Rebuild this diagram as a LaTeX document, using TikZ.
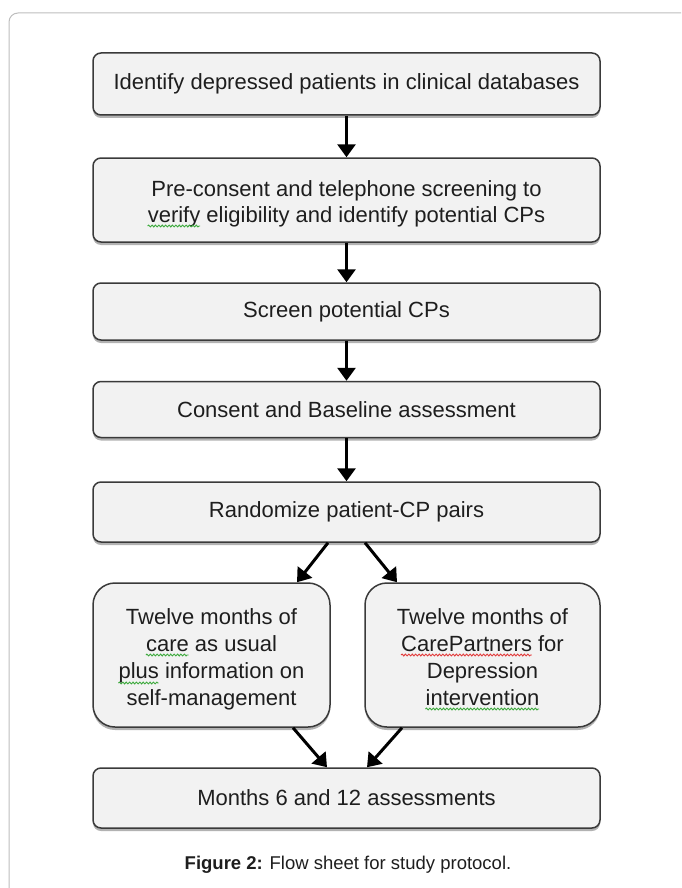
\documentclass[tikz,border=0pt]{standalone}
\usepackage{fontspec}
\setmainfont{Liberation Sans}
\usetikzlibrary{arrows.meta,shadows,calc,decorations.pathmorphing}
\definecolor{boxfill}{HTML}{F2F2F2}
\definecolor{boxline}{HTML}{3A3A3A}
\definecolor{framegray}{HTML}{BDBDBD}
\definecolor{sqgreen}{HTML}{3DAA3D}
\definecolor{sqred}{HTML}{E23B3B}
\definecolor{txt}{HTML}{1E1E1E}
\tikzset{
  flowbox/.style={draw=boxline, line width=1.5pt, fill=boxfill, rounded corners=8pt,
    minimum width=507pt, text=txt, align=center, inner sep=0pt,
    font=\fontsize{22}{25}\selectfont,
    drop shadow={shadow xshift=0pt, shadow yshift=-3pt, opacity=0.3, fill=black}},
  branchbox/.style={flowbox, rounded corners=22pt, minimum width=237pt, minimum height=144pt},
  textline/.style={inner sep=0pt, text=txt, font=\fontsize{22}{25}\selectfont, anchor=base},
  conn/.style={draw=black, line width=3pt, -{Triangle[length=13pt,width=18pt]}},
  frameline/.style={draw=framegray, line width=1pt, rounded corners=9pt},
  squig/.style={decorate, decoration={snake, amplitude=0.9pt, segment length=3.4pt}, line width=0.9pt}
}
\begin{document}
\begin{tikzpicture}[x=1pt,y=-1pt]
\useasboundingbox (0,0) rectangle (681,888);
\draw[frameline] (9,888) -- (9,13) -- (681,13);

% boxes
\node[flowbox, minimum height=62pt] (b1) at (346.5,84) {Identify depressed patients in clinical databases};
\node[flowbox, minimum height=84pt] (b2) at (346.5,200) {};
\node[flowbox, minimum height=57pt] (b3) at (346.5,311.5) {Screen potential CPs};
\node[flowbox, minimum height=56pt] (b4) at (346.5,409.5) {Consent and Baseline assessment};
\node[flowbox, minimum height=60pt] (b5) at (346.5,512) {Randomize patient-CP pairs};
\node[branchbox] (bl) at (211.5,655) {};
\node[branchbox, minimum width=235pt] (br) at (482.5,655) {};
\node[flowbox, minimum height=60pt] (b6) at (346.5,798) {Months 6 and 12 assessments};
\node[text=txt, font=\fontsize{18.5}{22}\selectfont] (cap) at (348,865) {\textbf{Figure 2:} Flow sheet for study protocol.};

% text lines of the two-line and branch boxes
\node[textline] (b2l1) at (346.5,196) {Pre-consent and telephone screening to};
\node[textline] (b2l2) at (346.5,222) {verify eligibility and identify potential CPs};
\node[textline] (bll1) at (211.5,624) {Twelve months of};
\node[textline] (bll2) at (211.5,651) {care as usual};
\node[textline] (bll3) at (211.5,678) {plus information on};
\node[textline] (bll4) at (211.5,705) {self-management};
\node[textline] (brl1) at (482.5,624) {Twelve months of};
\node[textline] (brl2) at (482.5,651) {CarePartners for};
\node[textline] (brl3) at (482.5,678) {Depression};
\node[textline] (brl4) at (482.5,705) {intervention};

% spell-check squiggles
\draw[squig, sqgreen] ($(b2l2.base west)+(0pt,-4pt)$) -- ($(b2l2.base west)+(52.6pt,-4pt)$);
\draw[squig, sqgreen] ($(bll2.base west)+(0pt,-4pt)$) -- ($(bll2.base west)+(42.8pt,-4pt)$);
\draw[squig, sqgreen] ($(bll3.base west)+(0pt,-5pt)$) -- ($(bll3.base west)+(40.3pt,-5pt)$);
\draw[squig, sqred] ($(brl2.base west)+(0pt,-4pt)$) -- ($(brl2.base west)+(130.8pt,-4pt)$);
\draw[squig, sqgreen] ($(brl4.base west)+(0pt,-4pt)$) -- ($(brl4.base west)+(113.7pt,-4pt)$);

% connectors
\draw[conn] (b1) -- (b2);
\draw[conn] (b2) -- (b3);
\draw[conn] (b3) -- (b4);
\draw[conn] (b4) -- (b5);
\draw[conn] ($(b5.south)+(-18.5,0)$) -- ($(bl.north)+(85.5,0)$);
\draw[conn] ($(b5.south)+(18.5,0)$) -- ($(br.north)+(-85.5,0)$);
\draw[conn] ($(bl.south)+(81.5,0)$) -- ($(b6.north)+(-19.5,0)$);
\draw[conn] ($(br.south)+(-80.5,0)$) -- ($(b6.north)+(20.5,0)$);
\end{tikzpicture}
\end{document}
